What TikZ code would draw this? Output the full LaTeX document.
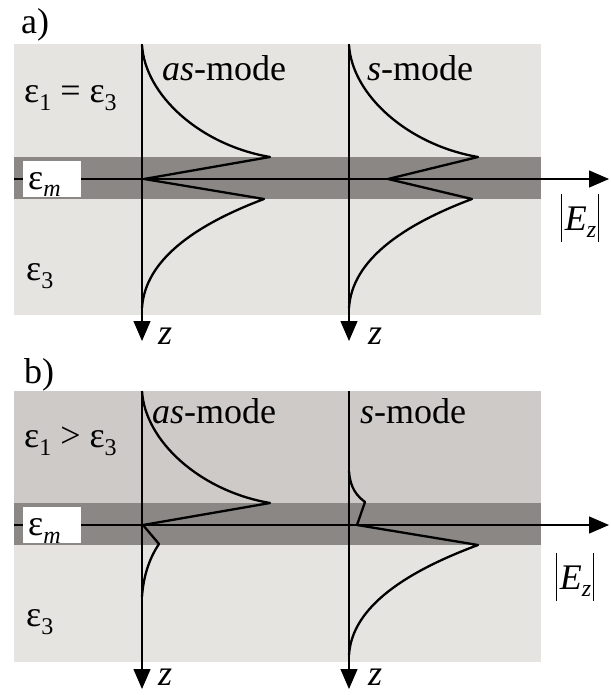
\documentclass[tikz,border=0pt]{standalone}
\usepackage{fontspec}
\setmainfont{Liberation Serif}
\usetikzlibrary{arrows.meta}
\definecolor{bglight}{HTML}{E6E4E1}
\definecolor{bgmid}{HTML}{CDCAC7}
\definecolor{strip}{HTML}{8A8784}
\newcommand{\Fs}{\fontsize{36}{40}\selectfont}
\newcommand{\Fsub}{\fontsize{24}{26}\selectfont}
\newcommand{\epsub}[1]{ε\raisebox{-8pt}{\Fsub #1}}
\tikzset{
  axisline/.style={line width=1.2pt,-{Triangle[length=20pt,width=17pt]}},
  curve/.style={line width=2.3pt,line join=round},
  lbl/.style={inner sep=0pt,font=\Fs},
  epsbox/.style={fill=white,inner sep=0pt,minimum width=58pt,minimum height=36pt,font=\Fs}
}
\begin{document}
\begin{tikzpicture}[x=1pt,y=-1pt]
\useasboundingbox (0,0) rectangle (610,695);
% ---------- panel a ----------
\fill[bglight] (14,44) rectangle (541,315);
\fill[strip] (14,157) rectangle (541,199);
\coordinate (ah0) at (14,179);
\coordinate (ah1) at (609,179);
\coordinate (av1t) at (142,44);
\coordinate (av1b) at (142,341);
\coordinate (av2t) at (349,44);
\coordinate (av2b) at (349,341);
\draw[axisline] (ah0) -- (ah1);
\draw[axisline] (av1t) -- (av1b);
\draw[axisline] (av2t) -- (av2b);
\node[epsbox] (aem) at (52,179) {};
\node[lbl,anchor=base west] (aemt) at (28,189) {\epsub{\textit{m}}};
% as-mode curve
\draw[curve] (142,45) .. controls (145,95) and (200,145) .. (270,157)
  -- (144,179) -- (264,199)
  .. controls (195,225) and (145,260) .. (142,308);
% s-mode curve
\draw[curve] (349,45) .. controls (352,95) and (408,145) .. (478,157)
  -- (388,179) -- (472,199)
  .. controls (403,225) and (352,260) .. (349,308);
\node[lbl,anchor=base west] (alab) at (21,34) {a)};
\node[lbl,anchor=base west] (aeps) at (24,103) {\epsub{1} = \epsub{3}};
\node[lbl,anchor=base west] (aeps3) at (26,280) {\epsub{3}};
\node[lbl,anchor=base west] (aas) at (162,81) {\textit{as}-mode};
\node[lbl,anchor=base west] (as) at (367,81) {\textit{s}-mode};
\node[lbl] (aEz) at (580,218) {\rule[-12pt]{1.3pt}{48pt}\hspace{3pt}\textit{E}\raisebox{-7pt}{\Fsub\textit{z}}\hspace{2pt}\rule[-12pt]{1.3pt}{48pt}};
\node[lbl,anchor=base west] (az1) at (158,344) {\textit{z}};
\node[lbl,anchor=base west] (az2) at (368,344) {\textit{z}};
% ---------- panel b ----------
\fill[bgmid] (14,391) rectangle (541,503);
\fill[strip] (14,503) rectangle (541,545);
\fill[bglight] (14,545) rectangle (541,662);
\coordinate (bh0) at (14,525);
\coordinate (bh1) at (609,525);
\coordinate (bv1t) at (142,391);
\coordinate (bv1b) at (142,689);
\coordinate (bv2t) at (349,391);
\coordinate (bv2b) at (349,689);
\draw[axisline] (bh0) -- (bh1);
\draw[axisline] (bv1t) -- (bv1b);
\draw[axisline] (bv2t) -- (bv2b);
\node[epsbox] (bem) at (52,525) {};
\node[lbl,anchor=base west] (bemt) at (28,535) {\epsub{\textit{m}}};
% as-mode curve
\draw[curve] (142,391) .. controls (145,441) and (200,491) .. (270,503)
  -- (143,525) -- (159,544)
  .. controls (148,560) and (143,580) .. (142,597);
% s-mode curve
\draw[curve] (349,471) .. controls (350,488) and (357,496) .. (365,502)
  -- (357,525) -- (478,545)
  .. controls (408,571) and (352,606) .. (349,655);
\node[lbl,anchor=base west] (blab) at (24,383) {b)};
\node[lbl,anchor=base west] (beps) at (24,447) {\epsub{1} > \epsub{3}};
\node[lbl,anchor=base west] (beps3) at (26,626) {\epsub{3}};
\node[lbl,anchor=base west] (bas) at (152,423) {\textit{as}-mode};
\node[lbl,anchor=base west] (bs) at (360,423) {\textit{s}-mode};
\node[lbl] (bEz) at (575,577) {\rule[-12pt]{1.3pt}{48pt}\hspace{3pt}\textit{E}\raisebox{-7pt}{\Fsub\textit{z}}\hspace{2pt}\rule[-12pt]{1.3pt}{48pt}};
\node[lbl,anchor=base west] (bz1) at (158,685) {\textit{z}};
\node[lbl,anchor=base west] (bz2) at (368,685) {\textit{z}};
\end{tikzpicture}
\end{document}
